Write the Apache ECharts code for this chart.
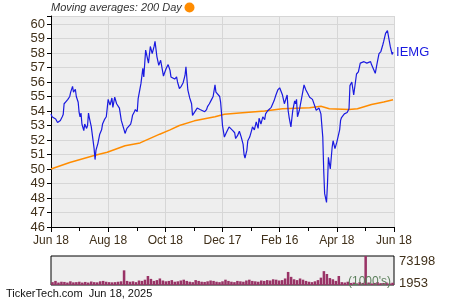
<!DOCTYPE html>
<html><head><meta charset="utf-8">
<script src="https://cdn.jsdelivr.net/npm/echarts@6/dist/echarts.min.js"></script>
<style>html,body{margin:0;padding:0;background:#fff}#c{width:450px;height:300px}</style>
</head><body><div id="c"></div>
<script>
// X axis: days since 2024-06-18
const xTickLabels = ['Jun 18','Aug 18','Oct 18','Dec 17','Feb 16','Apr 18','Jun 18'];
const yTicks = [46,47,48,49,50,51,52,53,54,55,56,57,58,59,60];

const priceDays = [0,1,3,5,7,10,12,13,14,16,18,20,21,23,24,26,27,29,30,31,32,33,35,36,38,39,40,41,43,44,46,47,48,50,52,54,55,57,59,60,61,63,65,66,68,70,72,73,75,77,78,79,81,83,85,86,87,89,90,92,93,95,96,98,99,101,102,104,106,108,110,111,113,115,117,118,120,121,123,125,127,128,130,132,134,135,137,139,141,143,144,146,148,150,151,153,156,157,159,161,164,166,167,169,171,173,175,176,177,178,180,181,183,185,187,188,190,192,194,196,197,199,201,203,205,206,207,209,210,212,214,215,217,219,221,222,224,226,228,229,231,233,235,237,238,240,242,244,245,247,249,250,252,253,254,256,258,260,261,262,263,265,267,268,270,272,274,276,277,279,281,283,284,286,288,290,291,292,294,295,296,298,300,301,303,305,306,308,309,310,313,316,318,319,321,323,325,326,328,330,332,334,337,339,341,342,344,346,348,350,352,354,355,357,359,360,362,363,364,365];
const prices = [53.8,53.6,53.55,53.45,53.2,53.35,53.6,53.75,54.5,54.65,54.8,55.0,55.3,55.7,55.3,55.5,55.0,54.6,53.9,53.6,53.85,53.1,52.65,53.1,52.8,53.0,53.85,53.5,52.9,52.4,51.4,50.65,51.3,51.75,52.4,52.7,53.1,53.4,53.6,54.2,54.8,54.4,54.9,54.25,54.95,54.5,54.6,54.2,53.35,53.35,52.7,52.45,52.8,52.75,53.1,53.35,53.7,53.95,54.1,53.95,54.85,54.9,55.9,56.95,56.35,58.2,58.1,57.3,58.45,57.95,58.45,58.8,57.75,57.15,57.5,57.6,56.4,56.6,56.95,57.2,56.8,56.35,56.3,56.2,56.35,56.0,55.55,55.7,55.95,56.45,57.05,55.45,54.9,54.5,53.7,53.65,54.2,54.25,54.1,54.15,53.95,54.1,54.3,54.5,54.75,55.0,55.8,55.3,55.2,55.3,55.0,54.6,53.0,52.2,52.5,52.6,52.9,53.0,52.65,52.5,52.1,52.3,52.6,52.2,51.7,51.0,50.75,51.3,51.95,52.2,52.65,52.9,52.7,53.25,52.8,53.5,53.1,53.6,53.4,53.8,54.0,53.9,54.25,54.15,54.7,55.1,55.45,55.6,55.65,55.1,54.5,54.6,55.1,54.05,53.6,52.9,54.05,54.7,54.5,54.8,53.6,54.05,53.95,55.1,55.8,55.45,55.2,54.95,55.0,54.8,54.7,54.05,53.95,54.2,53.8,52.2,49.9,48.3,47.7,48.95,50.8,50.0,51.5,51.95,51.4,51.85,51.85,52.7,53.35,53.55,53.8,53.9,54.15,55.75,56.0,55.1,55.1,56.55,56.7,57.3,57.2,57.4,57.3,57.2,57.4,57.2,57.3,56.6,57.3,57.95,58.1,58.55,58.8,59.35,59.55,59.45,58.45,58.35,57.9,58.05];

const maDays = [0,20,47,60,79,95,116,127,137,153,175,185,201,228,247,276,288,297,318,327,342,355,365];
const ma200 = [50.0,50.45,50.95,51.15,51.6,51.8,52.4,52.7,53.0,53.32,53.6,53.78,53.86,54.0,54.16,54.22,54.32,54.16,54.1,54.16,54.45,54.62,54.78];

// Volume (thousands), ~3-day buckets
const volume = [9000,12000,8000,10000,9500,8000,11000,8500,9000,10000,8000,
 9500,8000,10500,9000,8500,11000,12000,10000,9000,8500,
 9000,10000,11000,38000,12000,10000,11000,9000,13000,12000,
 15000,24000,17000,12000,14000,18000,13000,11000,12000,14000,
 10000,11000,13000,15000,12000,10000,9000,14000,12000,10000,
 9500,11000,13000,12000,10000,9000,11000,15000,12000,10000,
 9000,12000,11000,10000,13000,15000,12000,11000,10000,13000,
 12000,14000,13000,16000,15000,13000,14000,18000,34000,22000,
 16000,14000,18000,15000,12000,10000,9000,11000,14000,20000,
 36000,29000,19000,16000,12000,24000,9000,8000,10000,7000,
 8000,6000,9000,7000,73198,8000,6000,7000,9000,6500,7000,8000,6000,7500];
const volMin = 1953, volMax = 73198;

const labelColor = '#40301a';
const chart = echarts.init(document.getElementById('c'), null, {renderer:'canvas'});
chart.setOption({
  animation:false,
  grid:[
    {left:51,right:56,top:16,bottom:73,show:true,backgroundColor:'#eeeeee',borderWidth:0},
    {left:51,right:56,top:256,height:29,show:true,backgroundColor:'#eeeeee',borderColor:'#000',borderWidth:1}
  ],
  xAxis:[
    {type:'value',gridIndex:0,min:0,max:366,interval:61,
     axisLine:{lineStyle:{color:'#000',width:1}},
     axisTick:{show:true,length:5,lineStyle:{color:'#000'}},
     minorTick:{show:true,splitNumber:2,length:4,lineStyle:{color:'#000'}},
     splitLine:{show:true,lineStyle:{color:'#d6d6d6',width:1}},
     axisLabel:{color:labelColor,fontSize:12,fontFamily:'Liberation Sans, Arial',margin:8,showMaxLabel:true,showMinLabel:true,
       formatter:v=>xTickLabels[Math.round(v/61)]||''}},
    {type:'category',gridIndex:1,data:volume.map((_,i)=>i),
     axisLine:{show:false},axisTick:{show:false},axisLabel:{show:false},splitLine:{show:false}}
  ],
  yAxis:[
    {type:'value',gridIndex:0,min:46,max:60.55,interval:1,
     axisLine:{show:true,lineStyle:{color:'#000',width:1}},
     axisTick:{show:true,length:4,lineStyle:{color:'#000'}},
     splitLine:{show:true,lineStyle:{color:'#d6d6d6',width:1}},
     axisLabel:{color:labelColor,fontSize:13,fontFamily:'Liberation Sans, Arial',margin:6,
       formatter:v=>yTicks.indexOf(Math.round(v*100)/100)>=0?String(v):''}},
    {type:'value',gridIndex:1,position:'right',min:volMin,max:volMax,interval:volMax-volMin,
     axisLine:{show:false},axisTick:{show:false},splitLine:{show:false},
     axisLabel:{color:labelColor,fontSize:13,fontFamily:'Liberation Sans, Arial',margin:5,
       formatter:v=>v===volMax?'{t|'+v+'}':'{b|'+v+'}',
       rich:{t:{padding:[10,0,0,0],fontSize:13,color:labelColor},b:{padding:[0,0,4,0],fontSize:13,color:labelColor}}}}
  ],
  series:[
    {type:'line',xAxisIndex:0,yAxisIndex:0,data:maDays.map((d,i)=>[d,ma200[i]]),
     showSymbol:false,lineStyle:{color:'#ff8c00',width:1.5},z:2},
    {type:'line',xAxisIndex:0,yAxisIndex:0,data:priceDays.map((d,i)=>[d,prices[i]]),
     showSymbol:false,lineStyle:{color:'#1a1ae0',width:1.2},z:3,
     endLabel:{show:true,formatter:'IEMG',color:'#1a1ae0',fontSize:13,fontFamily:'Liberation Sans, Arial',distance:3}},
    {type:'bar',xAxisIndex:1,yAxisIndex:1,data:volume,barCategoryGap:'15%',
     itemStyle:{color:'#993366'},z:2}
  ],
  graphic:[
    {type:'text',left:51,top:2,style:{text:'Moving averages: 200 Day',fontSize:11,fontStyle:'italic',fontFamily:'Liberation Sans, Arial',fill:'#333'}},
    {type:'circle',shape:{cx:189.5,cy:7.5,r:5},style:{fill:'#ff8c00'}},
    {type:'text',left:348,top:276,style:{text:"(1000's)",fontSize:12,fontFamily:'Liberation Sans, Arial',fill:'#5b7f5b'},z:10},
    {type:'text',left:6,top:288,style:{text:'TickerTech.com  Jun 18, 2025',fontSize:11,fontFamily:'Liberation Sans, Arial',fill:'#111'}}
  ]
});
</script></body></html>
